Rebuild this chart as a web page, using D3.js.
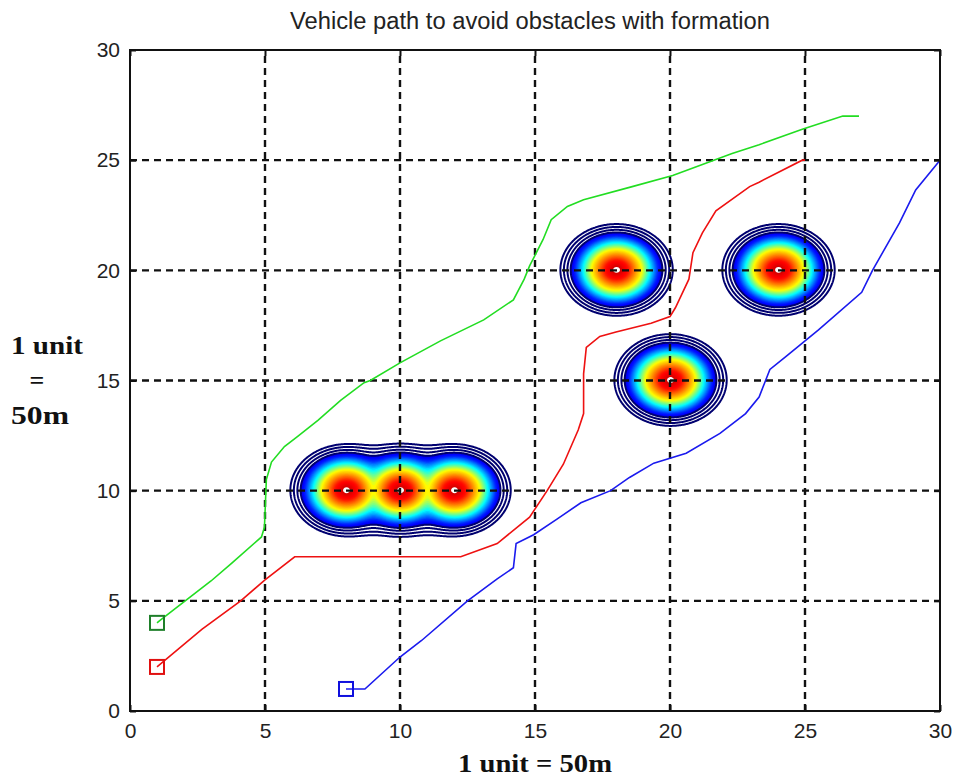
<!DOCTYPE html>
<html>
<head>
<meta charset="utf-8">
<script src="https://cdn.jsdelivr.net/npm/d3@7"></script>
<style>
  body { margin: 0; background: #fff; }
  svg { display: block; }
</style>
</head>
<body>
<svg id="chart" width="953" height="779"></svg>
<script>
// axis ticks
const xTicks = [0, 5, 10, 15, 20, 25, 30];
const yTicks = [0, 5, 10, 15, 20, 25, 30];

// obstacle centres
const obstacleX = [8, 10, 12, 18, 24, 20];
const obstacleY = [10, 10, 10, 20, 20, 15];

// vehicle paths
const greenPath = [[1,4],[1.1,4.1],[3.0,5.9],[3.76,6.7],[4.87,7.9],[4.98,8.35],[5.05,10.5],[5.24,11.3],
  [5.72,12.0],[6.2,12.45],[6.97,13.2],[7.8,14.1],[8.67,14.9],[8.9,15.0],[10,15.8],[11.5,16.8],
  [13.1,17.75],[14.2,18.66],[14.6,19.6],[14.8,20.2],[15.3,21.4],[15.6,22.3],[16.2,22.9],[16.8,23.2],
  [18.6,23.8],[20.1,24.3],[22.3,25.3],[23.3,25.7],[24.9,26.4],[26.4,27.0],[27.0,27.0]];
const redPath = [[1,2],[1.1,2.1],[2.66,3.7],[4.1,5.0],[5.0,5.95],[6.1,7.0],[12.25,7.0],[13.6,7.6],
  [14.8,8.8],[15.45,10],[16.05,11.2],[16.6,12.75],[16.8,13.5],[16.8,15.3],[16.9,16.5],[17.4,17.0],
  [18.0,17.2],[19.3,17.6],[20.0,17.9],[20.2,18.3],[20.7,19.6],[20.85,20.8],[21.2,21.7],[21.7,22.7],
  [22.95,23.8],[23.3,24.0],[24.9,25.0],[25,25]];
const bluePath = [[8,1],[8.7,1.0],[10,2.45],[10.8,3.2],[12.5,5.0],[13.6,6.0],[14.2,6.5],[14.3,7.6],
  [14.95,8.0],[15.8,8.7],[16.7,9.45],[17.8,10.0],[18.5,10.6],[19.4,11.25],[20.6,11.7],[21.85,12.6],
  [22.8,13.5],[23.3,14.25],[23.7,15.5],[24.3,16.1],[25.5,17.3],[27.1,19.0],[27.5,20.0],[28.5,22.15],
  [29.1,23.65],[30,25]];

let svg = d3.select("#chart"),
    MARGINS = { top: 50, right: 13, bottom: 68, left: 130 },
    WIDTH = 953, HEIGHT = 779;

let x = d3.scaleLinear().domain([0, 30]).range([MARGINS.left, WIDTH - MARGINS.right]);
let y = d3.scaleLinear().domain([0, 30]).range([HEIGHT - MARGINS.bottom, MARGINS.top]);

// ---- contour field around the obstacles ----
let step = 0.04, x0 = 4, x1 = 28.5, y0 = 6, y1 = 24.5;
let nx = Math.round((x1 - x0) / step) + 1,
    ny = Math.round((y1 - y0) / step) + 1;
let values = new Float64Array(nx * ny);
for (let j = 0; j < ny; j++) {
  let py = y0 + j * step;
  for (let i = 0; i < nx; i++) {
    let px = x0 + i * step, s = 0;
    for (let k = 0; k < obstacleX.length; k++) {
      let d = Math.hypot(px - obstacleX[k], py - obstacleY[k]) + 1e-6;
      s += Math.pow(d, -8);
    }
    values[j * nx + i] = -Math.pow(s, -1 / 8);   // minus smooth distance
  }
}

function jet(t) {
  let c = function(v) { return Math.round(255 * Math.max(0, Math.min(1, v))); };
  return "rgb(" + c(1.5 - Math.abs(4 * t - 3)) + "," + c(1.5 - Math.abs(4 * t - 2)) + "," + c(1.5 - Math.abs(4 * t - 1)) + ")";
}
let radiusToT = d3.scaleLinear()
  .domain([0, 0.45, 0.95, 1.25, 1.55, 1.7])
  .range([0.95, 0.86, 0.625, 0.375, 0.16, 0.1])
  .clamp(true);

let proj = d3.geoTransform({
  point: function(gx, gy) { this.stream.point(x(x0 + gx * step), y(y0 + gy * step)); }
});
let cpath = d3.geoPath(proj);

let fillRadii = d3.range(1.7, 0.02, -0.04);
let ringRadii = [2.08, 1.95, 1.82, 1.7];

let contours = d3.contours().size([nx, ny]);

let gc = svg.append("g").attr("class", "contours");
gc.selectAll("path.band")
  .data(contours.thresholds(fillRadii.map(function(r) { return -r; }))(values))
  .enter().append("path")
  .attr("class", "band")
  .attr("d", cpath)
  .attr("fill", function(d) { return jet(radiusToT(-d.value)); })
  .attr("stroke", "none");

gc.selectAll("path.ring")
  .data(contours.thresholds(ringRadii.map(function(r) { return -r; }))(values))
  .enter().append("path")
  .attr("class", "ring")
  .attr("d", cpath)
  .attr("fill", "none")
  .attr("stroke", "#000070")
  .attr("stroke-width", 2);

// small white spot at each centre
gc.selectAll("path.core")
  .data(contours.thresholds([-0.1])(values))
  .enter().append("path")
  .attr("d", cpath)
  .attr("fill", "#fff")
  .attr("stroke", "#fff")
  .attr("stroke-width", 1.5);

// ---- dashed grid ----
let grid = svg.append("g").attr("class", "grid");
grid.selectAll("line.gx")
  .data(xTicks.slice(1, -1))
  .enter().append("line")
  .attr("x1", function(d) { return x(d); }).attr("x2", function(d) { return x(d); })
  .attr("y1", y(0)).attr("y2", y(30));
grid.selectAll("line.gy")
  .data(yTicks.slice(1, -1))
  .enter().append("line")
  .attr("y1", function(d) { return y(d); }).attr("y2", function(d) { return y(d); })
  .attr("x1", x(0)).attr("x2", x(30));
grid.selectAll("line")
  .attr("stroke", "#111")
  .attr("stroke-width", 2.4)
  .attr("stroke-dasharray", "7,5");

// ---- paths ----
let line = d3.line()
  .x(function(d) { return x(d[0]); })
  .y(function(d) { return y(d[1]); });

let series = [
  { pts: greenPath, color: "#22dd22", box: "#1f7f2a" },
  { pts: redPath, color: "#ee1111", box: "#e01010" },
  { pts: bluePath, color: "#1a1aee", box: "#1010dd" }
];

series.forEach(function(s) {
  svg.append("path")
    .attr("d", line(s.pts))
    .attr("fill", "none")
    .attr("stroke", s.color)
    .attr("stroke-width", 1.6);
  svg.append("rect")
    .attr("x", x(s.pts[0][0]) - 7)
    .attr("y", y(s.pts[0][1]) - 7)
    .attr("width", 14).attr("height", 14)
    .attr("fill", "none")
    .attr("stroke", s.box)
    .attr("stroke-width", 2);
});

// ---- axes box and ticks ----
svg.append("rect")
  .attr("x", x(0)).attr("y", y(30))
  .attr("width", x(30) - x(0)).attr("height", y(0) - y(30))
  .attr("fill", "none")
  .attr("stroke", "#111")
  .attr("stroke-width", 2);

let xAxis = d3.axisBottom(x).tickValues(xTicks).tickSize(-6).tickPadding(12);
let yAxis = d3.axisLeft(y).tickValues(yTicks).tickSize(-6).tickPadding(10);
let xTop = d3.axisTop(x).tickValues(xTicks).tickSize(-6).tickFormat("");
let yRight = d3.axisRight(y).tickValues(yTicks).tickSize(-6).tickFormat("");

svg.append("g").attr("transform", "translate(0," + y(0) + ")").call(xAxis);
svg.append("g").attr("transform", "translate(" + x(0) + ",0)").call(yAxis);
svg.append("g").attr("transform", "translate(0," + y(30) + ")").call(xTop);
svg.append("g").attr("transform", "translate(" + x(30) + ",0)").call(yRight);

svg.selectAll(".domain").remove();
svg.selectAll(".tick line").attr("stroke", "#111").attr("stroke-width", 2);
svg.selectAll(".tick text")
  .attr("fill", "#222")
  .style("font-family", "'Liberation Sans', Arial, sans-serif")
  .style("font-size", "21px");

// ---- titles ----
svg.append("text")
  .attr("x", 530).attr("y", 29)
  .attr("text-anchor", "middle")
  .attr("textLength", 480)
  .attr("lengthAdjust", "spacingAndGlyphs")
  .style("font-family", "'Liberation Sans', Arial, sans-serif")
  .style("font-size", "23px")
  .attr("fill", "#222")
  .text("Vehicle path to avoid obstacles with formation");

let serif = "'Liberation Serif', 'Times New Roman', serif";
svg.append("text")
  .attr("x", 535).attr("y", 772)
  .attr("text-anchor", "middle")
  .attr("textLength", 154)
  .attr("lengthAdjust", "spacingAndGlyphs")
  .style("font-family", serif).style("font-weight", "bold").style("font-size", "26px")
  .attr("fill", "#111")
  .text("1 unit = 50m");

let ylab = ["1 unit", "=", "50m"];
let ylabWidth = [72, null, 58];
svg.selectAll("text.ylab")
  .data(ylab)
  .enter().append("text")
  .attr("class", "ylab")
  .attr("x", function(d, i) { return i === 1 ? 37 : 11; })
  .attr("y", function(d, i) { return 354 + i * 35; })
  .attr("text-anchor", function(d, i) { return i === 1 ? "middle" : "start"; })
  .each(function(d, i) {
    if (ylabWidth[i]) d3.select(this).attr("textLength", ylabWidth[i]).attr("lengthAdjust", "spacingAndGlyphs");
  })
  .style("font-family", serif).style("font-weight", "bold").style("font-size", "26px")
  .attr("fill", "#111")
  .text(function(d) { return d; });
</script>
</body>
</html>
